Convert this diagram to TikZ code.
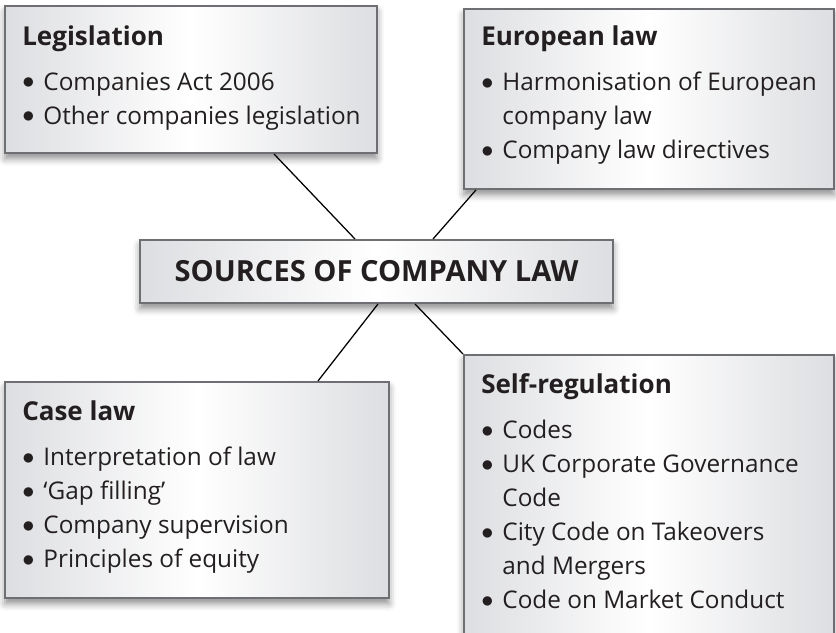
\documentclass[tikz,border=0pt]{standalone}
\usepackage{fontspec}
\setmainfont{Open Sans}
\usepackage{tikz}
\usetikzlibrary{positioning}
\usetikzlibrary{shadows.blur}
\definecolor{boxgray}{RGB}{221,222,225}
\definecolor{framegray}{RGB}{110,111,114}
\definecolor{inkblack}{RGB}{35,31,32}
\tikzstyle{srcbox}=[rectangle,draw=framegray,line width=1.4pt,left color=boxgray,right color=boxgray,middle color=white,blur shadow={shadow xshift=0pt,shadow yshift=-4pt,shadow blur radius=5pt,shadow opacity=45},inner sep=0]
\tikzstyle{srctext}=[anchor=north west,align=left,inner sep=0,text=inkblack,font=\fontsize{17.3}{24.2}\selectfont]
\newcommand{\itm}[1]{\makebox[0.87em][l]{\raisebox{0.05em}{$\bullet$}}#1}
\newcommand{\cont}[1]{\hspace*{0.87em}#1}
\newcommand{\heading}[1]{\textbf{\fontsize{18.5}{24.2}\selectfont #1}\\[7.8pt]}

\begin{document}
\begin{tikzpicture}

      \useasboundingbox (0, 0) rectangle (20.9, -15.825);

      % the four source boxes and the centre box
      \node [srcbox, anchor=north west, minimum width=9.3cm, minimum height=3.675cm] (legislation) at (0.1, -0.125) {};
      \node [srcbox, anchor=north west, minimum width=9.25cm, minimum height=4.5cm] (european_law) at (11.575, -0.2) {};
      \node [srcbox, anchor=north west, minimum width=9.6cm, minimum height=5.4cm] (case_law) at (0.1, -9.525) {};
      \node [srcbox, anchor=north west, minimum width=9.25cm, minimum height=8cm] (self_regulation) at (11.575, -8.85) {};
      \node [srcbox, minimum width=11.825cm, minimum height=1.575cm, text=inkblack, font=\bfseries\fontsize{20.7}{24}\selectfont] (sources) at (9.4125, -6.7875) {SOURCES OF COMPANY LAW};

      % box contents
      \node [srctext, below right=0.5cm and 0.45cm of legislation.north west] (legislation_text) {\heading{Legislation}\itm{Companies Act 2006}\\\itm{Other companies legislation}};
      \node [srctext, below right=0.43cm and 0.45cm of european_law.north west] (european_law_text) {\heading{European law}\itm{Harmonisation of European}\\\cont{company law}\\\itm{Company law directives}};
      \node [srctext, below right=0.48cm and 0.45cm of case_law.north west] (case_law_text) {\heading{Case law}\itm{Interpretation of law}\\\itm{‘Gap filling’}\\\itm{Company supervision}\\\itm{Principles of equity}};
      \node [srctext, below right=0.48cm and 0.45cm of self_regulation.north west] (self_regulation_text) {\heading{Self-regulation}\itm{Codes}\\\itm{UK Corporate Governance}\\\cont{Code}\\\itm{City Code on Takeovers}\\\cont{and Mergers}\\\itm{Code on Market Conduct}};

      % connectors
      \draw[line width=0.9pt] ([xshift=2.075cm]legislation.south) -- ([xshift=-0.5375cm]sources.north);
      \draw[line width=0.9pt] ([xshift=-4.325cm]european_law.south) -- ([xshift=1.4125cm]sources.north);
      \draw[line width=0.9pt] ([xshift=0.0375cm]sources.south) -- ([xshift=3.025cm]case_law.north);
      \draw[line width=0.9pt] ([xshift=0.9625cm]sources.south) -- (self_regulation.north west);

\end{tikzpicture}
\end{document}
